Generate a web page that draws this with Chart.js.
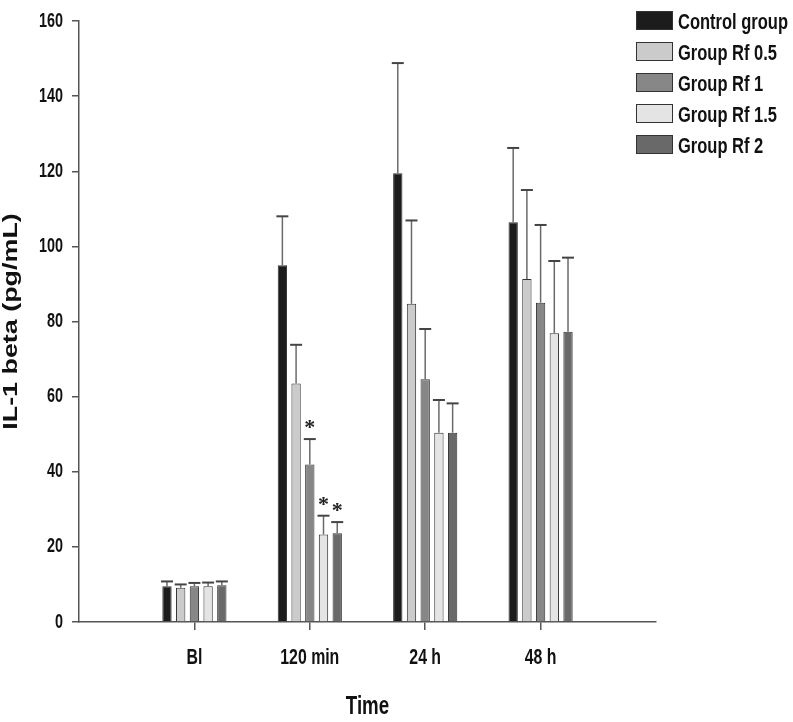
<!DOCTYPE html>
<html>
<head>
<meta charset="utf-8">
<script src="https://cdn.jsdelivr.net/npm/chart.js@4/dist/chart.umd.min.js"></script>
<style>
body{margin:0;background:#fff;}
#wrap{position:relative;width:793px;height:722px;}
#legend{position:absolute;left:636px;top:11px;font-family:"Liberation Sans",Arial,sans-serif;font-size:22px;font-weight:bold;color:#111;}
.item{height:31px;position:relative;}
.box{position:absolute;left:0;top:0;width:35px;height:17px;border:1px solid #333;}
.txt{position:absolute;left:42px;top:-1px;white-space:nowrap;line-height:24px;transform:scaleX(0.75);transform-origin:0 0;}
</style>
</head>
<body>
<div id="wrap">
  <canvas id="chart" width="793" height="722"></canvas>
  <div id="legend"></div>
</div>
<script>
var timepoints = ["Bl", "120 min", "24 h", "48 h"];
var seriesNames = ["Control group", "Group Rf 0.5", "Group Rf 1", "Group Rf 1.5", "Group Rf 2"];
var seriesColors = ["#1c1c1c", "#cbcbcb", "#878787", "#e4e4e4", "#696969"];

var control = [9.5, 95.0, 119.5, 106.4];
var rf05 = [9.1, 63.5, 84.7, 91.3];
var rf1 = [9.5, 41.9, 64.6, 85.0];
var rf15 = [9.5, 23.3, 50.4, 76.9];
var rf2 = [9.8, 23.6, 50.4, 77.3];

// upper error bar lengths (SD)
var controlErr = [1.3, 13.0, 29.3, 19.8];
var rf05Err = [0.9, 10.3, 22.2, 23.7];
var rf1Err = [0.9, 6.8, 13.4, 20.7];
var rf15Err = [1.0, 5.0, 8.7, 19.2];
var rf2Err = [1.0, 3.0, 7.8, 19.7];

// significance marks (*)
var controlSig = [false, false, false, false];
var rf05Sig = [false, false, false, false];
var rf1Sig = [false, true, false, false];
var rf15Sig = [false, true, false, false];
var rf2Sig = [false, true, false, false];

var yTicks = [0, 20, 40, 60, 80, 100, 120, 140, 160];

var values = [control, rf05, rf1, rf15, rf2];
var errors = [controlErr, rf05Err, rf1Err, rf15Err, rf2Err];
var sigs = [controlSig, rf05Sig, rf1Sig, rf15Sig, rf2Sig];

// empty slot on each side of the axis
function pad(arr){ return [null].concat(arr, [null]); }

var datasets = [];
for (var i = 0; i < values.length; i++) {
    datasets.push({
        label: seriesNames[i],
        data: pad(values[i]),
        errors: pad(errors[i]),
        stars: pad(sigs[i]),
        backgroundColor: seriesColors[i],
        borderColor: "#333",
        borderWidth: 1,
        categoryPercentage: 0.594,
        barPercentage: 0.68
    });
}

// the original figure is squeezed horizontally, so text is drawn narrow
// (marker family NarrowX) or, for the rotated title, stretched (WideX)
var textScale = {
    id: "textScale",
    beforeInit: function(chart){
        var ctx = chart.ctx;
        var orig = ctx.fillText;
        ctx.fillText = function(t, x, y, w){
            var f = ctx.font;
            var k = f.indexOf("NarrowX") >= 0 ? 0.72 : (f.indexOf("WideX") >= 0 ? 1.28 : 1);
            if (k === 1) {
                return w === undefined ? orig.call(ctx, t, x, y) : orig.call(ctx, t, x, y, w);
            }
            ctx.save();
            ctx.translate(x, y);
            ctx.scale(k, 1);
            orig.call(ctx, t, 0, 0);
            ctx.restore();
        };
    }
};

var errorBars = {
    id: "errorBars",
    afterDatasetsDraw: function(chart){
        var ctx = chart.ctx;
        var y = chart.scales.y;
        chart.data.datasets.forEach(function(ds, di){
            var meta = chart.getDatasetMeta(di);
            meta.data.forEach(function(bar, i){
                var v = ds.data[i];
                if (v == null) return;
                var top = y.getPixelForValue(v + ds.errors[i]);
                ctx.save();
                ctx.strokeStyle = "#6a6a6a";
                ctx.lineWidth = 1.5;
                ctx.beginPath();
                ctx.moveTo(bar.x, bar.y);
                ctx.lineTo(bar.x, top);
                ctx.stroke();
                ctx.strokeStyle = "#444";
                ctx.lineWidth = 2;
                ctx.beginPath();
                ctx.moveTo(bar.x - 6, top);
                ctx.lineTo(bar.x + 6, top);
                ctx.stroke();
                if (ds.stars[i]) {
                    ctx.fillStyle = "#222";
                    ctx.font = "bold 22px 'Liberation Serif'";
                    ctx.textAlign = "center";
                    ctx.textBaseline = "alphabetic";
                    ctx.fillText("*", bar.x, top - 5);
                }
                ctx.restore();
            });
        });
    }
};

var narrow = "'Liberation Sans', NarrowX";
var wide = "'Liberation Sans', WideX";

new Chart(document.getElementById("chart"), {
    type: "bar",
    data: { labels: pad(timepoints).map(function(l){ return l == null ? "" : l; }), datasets: datasets },
    options: {
        responsive: false,
        animation: false,
        layout: { padding: { left: 0, right: 137, top: 12, bottom: 0 }, autoPadding: false },
        plugins: { legend: { display: false }, tooltip: { enabled: false } },
        scales: {
            x: {
                offset: false,
                grid: {
                    offset: false,
                    drawOnChartArea: false,
                    drawTicks: true,
                    tickLength: 8,
                    lineWidth: 1.5,
                    color: function(c){ return (c.index === 0 || c.index === timepoints.length + 1) ? "rgba(0,0,0,0)" : "#555"; }
                },
                border: { color: "#555", width: 1.5 },
                ticks: { color: "#111", padding: 15, autoSkip: false, maxRotation: 0, font: { family: narrow, size: 22, weight: "bold" } },
                title: { display: true, text: "Time", color: "#111", padding: { top: 0, bottom: 2 }, font: { family: narrow, size: 26, weight: "bold", lineHeight: 1 } },
                afterFit: function(s){ s.height = 100; }
            },
            y: {
                min: 0,
                max: 160,
                afterBuildTicks: function(s){ s.ticks = yTicks.map(function(v){ return { value: v }; }); },
                grid: { drawOnChartArea: false, drawTicks: true, tickLength: 7, lineWidth: 1.5, color: "#555" },
                border: { color: "#555", width: 1.5 },
                ticks: { color: "#111", padding: 9, font: { family: narrow, size: 20, weight: "bold" } },
                title: { display: true, text: "IL-1 beta (pg/mL)", color: "#111", padding: 0, font: { family: wide, size: 21, weight: "bold", lineHeight: 1.1 } },
                afterFit: function(s){ s.width = 79; }
            }
        }
    },
    plugins: [textScale, errorBars]
});

var legend = document.getElementById("legend");
for (var j = 0; j < seriesNames.length; j++) {
    legend.insertAdjacentHTML("beforeend",
        '<div class="item"><span class="box" style="background:' + seriesColors[j] + '"></span>' +
        '<span class="txt">' + seriesNames[j] + '</span></div>');
}
</script>
</body>
</html>
